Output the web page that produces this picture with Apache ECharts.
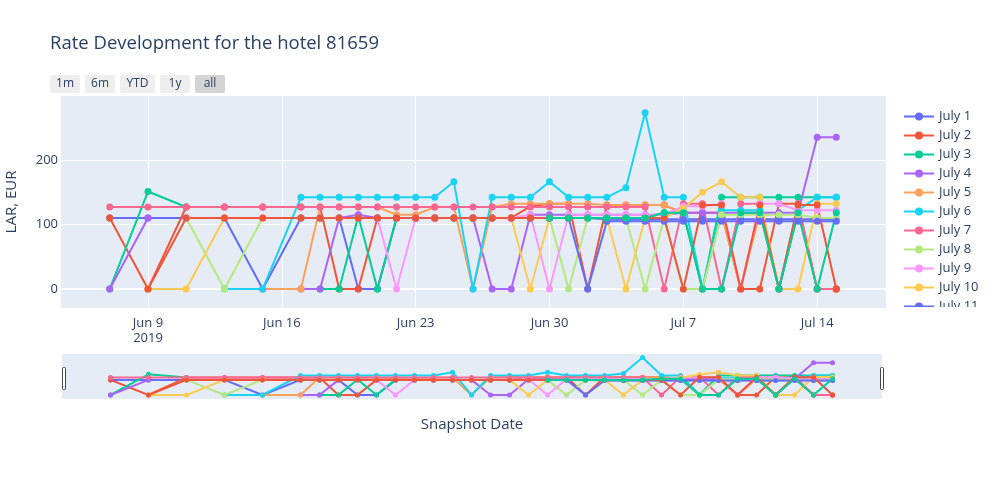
<!DOCTYPE html>
<html>
<head>
<meta charset="utf-8">
<title>Rate Development</title>
<script src="https://cdn.jsdelivr.net/npm/echarts@6/dist/echarts.min.js"></script>
<style>
  html, body { margin: 0; padding: 0; background: #fff; }
  #chart { width: 1000px; height: 500px; }
</style>
</head>
<body>
<div id="chart"></div>
<script>
// snapshot dates
const dates = [
  "2019-06-07", "2019-06-09", "2019-06-11", "2019-06-13", "2019-06-15",
  "2019-06-17", "2019-06-18", "2019-06-19", "2019-06-20", "2019-06-21", "2019-06-22", "2019-06-23",
  "2019-06-24", "2019-06-25", "2019-06-26", "2019-06-27", "2019-06-28", "2019-06-29", "2019-06-30",
  "2019-07-01", "2019-07-02", "2019-07-03", "2019-07-04", "2019-07-05", "2019-07-06", "2019-07-07",
  "2019-07-08", "2019-07-09", "2019-07-10", "2019-07-11", "2019-07-12", "2019-07-13", "2019-07-14", "2019-07-15",
];

// rates per stay date (LAR, EUR), null = no snapshot
const july1 = [
  110, 110, 110, 110, 0,
  110, 110, 110, 0, 0, 110, 110,
  110, 110, 110, 110, 110, 110, 110,
  110, 110, 108, 108, 108, 108, 108,
  108, 108, 108, 108, 108, 108, 108, 108,
];
const july2 = [
  110, 0, 127, 127, 127,
  127, 127, 0, 0, 110, 110, 110,
  110, 110, 110, 110, 110, 128, 132,
  132, 0, 130, 130, 130, 130, 118,
  118, 118, 0, 0, 132, 132, 0, 0,
];
const july3 = [
  0, 151, 127, null, null,
  null, 0, 0, 113, 0, 110, 110,
  110, 110, 110, 110, 110, 110, 110,
  110, 110, 110, 110, 110, 118, 118,
  0, 142, 142, 142, 142, 142, 142, 142,
];
const july4 = [
  0, 110, null, null, null,
  0, 0, 110, 115, 110, 110, 110,
  110, 110, 110, 0, 0, 115, 115,
  115, 115, 115, 115, 115, 115, 118,
  118, 118, 118, 118, 118, 118, 235, 235,
];
const july5 = [
  null, null, null, null, 0,
  0, 127, 127, 127, 127, 115, 115,
  127, 127, 0, 127, 132, 132, 132,
  132, 132, 130, 130, 130, 130, 118,
  0, 118, 0, 118, 0, 118, 0, 0,
];
const july6 = [
  null, null, null, 0, 0,
  142, 142, 142, 142, 142, 142, 142,
  142, 166, 0, 142, 142, 142, 166,
  142, 142, 142, 157, 273, 142, 142,
  0, 122, 122, 122, 0, 122, 142, 142,
];
const july7 = [
  127, 127, 127, 127, 127,
  127, 127, 127, 127, 127, 127, 127,
  127, 127, 127, 127, 127, 127, 127,
  127, 127, 127, 127, 127, 0, 132,
  132, 0, 132, 132, 0, 132, 0, 0,
];
const july8 = [
  null, null, 110, 0, 110,
  110, 110, 110, 110, 110, 110, 110,
  110, 110, 110, 110, 110, 110, 110,
  0, 110, 110, 110, 0, 110, 0,
  0, 115, 115, 115, 115, 115, 110, 110,
];
const july9 = [
  null, null, null, null, null,
  null, null, null, null, 110, 0, 110,
  110, 110, 110, 110, 110, 115, 0,
  115, 115, 115, 115, 115, 115, 128,
  128, 132, 0, 132, 132, 122, 122, 122,
];
const july10 = [
  null, 0, 0, 110, 110,
  110, 110, 110, 110, 110, 110, 110,
  110, 110, 110, 110, 110, 0, 110,
  110, 110, 110, 0, 110, 110, 125,
  150, 166, 142, 142, 0, 0, 132, 132,
];
const july11 = [
  null, null, null, null, null,
  110, 110, 110, 110, 110, 110, 110,
  110, 110, 110, 110, 110, 110, 110,
  110, 0, 105, 105, 105, 105, 105,
  105, 105, 105, 105, 105, 105, 105, 105,
];
const july12 = [
  null, 0, 110, 110, 110,
  110, 110, 110, 110, 110, 110, 110,
  110, 110, 110, 110, 110, 110, 110,
  110, 110, 110, 110, 110, 110, 0,
  130, 130, 0, 130, 0, 130, 130, 0,
];
const july13 = [
  null, null, null, null, null,
  null, null, null, null, null, null, null,
  null, null, null, null, null, null, 110,
  110, 110, 110, 110, 110, 118, 118,
  0, 0, 118, 118, 0, 118, 0, 118,
];

const seriesNames = [
  "July 1", "July 2", "July 3", "July 4", "July 5", "July 6", "July 7",
  "July 8", "July 9", "July 10", "July 11", "July 12", "July 13",
];
const seriesValues = [
  july1, july2, july3, july4, july5, july6, july7,
  july8, july9, july10, july11, july12, july13,
];
const colors = [
  "#636efa", "#ef553b", "#00cc96", "#ab63fa", "#ffa15a", "#19d3f3", "#ff6692",
  "#b6e880", "#ff97ff", "#fecb52", "#636efa", "#ef553b", "#00cc96",
];

// x tick positions (days since Jun 9) and labels
const xTickDays = [0, 7, 14, 21, 28, 35];
const xTickLabels = ["Jun 9\n2019", "Jun 16", "Jun 23", "Jun 30", "Jul 7", "Jul 14"];
const yTicks = [0, 100, 200];
const rangeButtons = ["1m", "6m", "YTD", "1y", "all"];

const origin = Date.parse("2019-06-09");
const dayOf = (d) => (Date.parse(d) - origin) / 86400000;

const textColor = "#2a3f5f";
const font = "'Open Sans', Verdana, Arial, sans-serif";

function toPoints(values) {
  return dates.map((d, i) => [dayOf(d), values[i] === null ? "-" : values[i]]);
}

const mainSeries = seriesNames.map((name, i) => ({
  name: name,
  type: "line",
  xAxisIndex: 0,
  yAxisIndex: 0,
  z: 2,
  data: toPoints(seriesValues[i]),
  symbol: "circle",
  symbolSize: 7,
  showSymbol: true,
  lineStyle: { width: 2, color: colors[i] },
  itemStyle: { color: colors[i] },
  emphasis: { disabled: true },
  animation: false,
  // zero line sits under every trace
  markLine: i === 0 ? {
    z: 1,
    silent: true,
    symbol: "none",
    label: { show: false },
    lineStyle: { color: "#ffffff", width: 2, type: "solid" },
    data: [{ yAxis: 0 }],
  } : undefined,
}));

const miniSeries = seriesNames.map((name, i) => ({
  name: name,
  type: "line",
  xAxisIndex: 1,
  yAxisIndex: 1,
  data: toPoints(seriesValues[i]),
  symbol: "circle",
  symbolSize: 5,
  showSymbol: true,
  silent: true,
  lineStyle: { width: 2, color: colors[i] },
  itemStyle: { color: colors[i] },
  emphasis: { disabled: true },
  animation: false,
}));

// range selector buttons (decoration only)
const buttonX = [50, 85, 120, 160, 195];
const buttonW = [30, 30, 35, 30, 30];
const buttonGraphics = rangeButtons.map((label, i) => ({
  type: "group",
  left: buttonX[i],
  top: 75,
  children: [
    {
      type: "rect",
      shape: { x: 0, y: 0, width: buttonW[i], height: 18, r: 2 },
      style: { fill: label === "all" ? "#d4d4d4" : "#eeeeee" },
    },
    {
      type: "text",
      x: buttonW[i] / 2,
      y: 9,
      style: {
        text: label,
        fill: textColor,
        font: "12px " + font,
        textAlign: "center",
        textVerticalAlign: "middle",
      },
    },
  ],
}));

const handleGraphics = [62, 880].map((x) => ({
  type: "rect",
  shape: { x: x + 0.5, y: 367.5, width: 3, height: 22, r: 1 },
  style: { fill: "#ffffff", stroke: "#444444", lineWidth: 1 },
  z: 100,
}));

const option = {
  backgroundColor: "#ffffff",
  animation: false,
  color: colors,
  textStyle: { fontFamily: font },
  title: {
    text: "Rate Development for the hotel 81659",
    left: 50,
    top: 34,
    padding: 0,
    textStyle: { fontSize: 18.5, fontWeight: "normal", color: textColor, fontFamily: font },
  },
  legend: {
    type: "scroll",
    orient: "vertical",
    left: 903,
    top: 110,
    height: 218,
    padding: 0,
    data: seriesNames,
    itemWidth: 30,
    itemHeight: 10,
    itemGap: 6,
    textStyle: { color: textColor, fontSize: 13, fontFamily: font },
    pageIconColor: "transparent",
    pageIconInactiveColor: "transparent",
    pageFormatter: "",
    pageTextStyle: { color: "transparent" },
  },
  graphic: buttonGraphics.concat(handleGraphics),
  grid: [
    {
      left: 61, top: 96, width: 825, height: 212,
      outerBoundsMode: "none",
      containLabel: false,
      show: true, backgroundColor: "#e5ecf6", borderWidth: 0,
    },
    {
      left: 62, top: 354, width: 820, height: 45,
      outerBoundsMode: "none",
      containLabel: false,
      show: true, backgroundColor: "#e5ecf6", borderWidth: 0,
    },
  ],
  xAxis: [
    {
      type: "value",
      gridIndex: 0,
      min: -4.55,
      max: 38.6,
      axisLine: { show: false },
      axisTick: { show: false, customValues: xTickDays },
      splitLine: { show: true, lineStyle: { color: "#ffffff", width: 1 } },
      axisLabel: {
        customValues: xTickDays,
        color: textColor,
        fontSize: 13,
        fontFamily: font,
        margin: 8,
        lineHeight: 15,
        formatter: (v) => xTickLabels[xTickDays.indexOf(v)] || "",
      },
    },
    {
      type: "value",
      gridIndex: 1,
      min: -4.55,
      max: 38.6,
      axisLine: { show: false },
      axisTick: { show: false },
      splitLine: { show: false },
      axisLabel: { show: false },
      name: "Snapshot Date",
      nameLocation: "middle",
      nameGap: 18,
      nameTextStyle: { color: textColor, fontSize: 15, fontFamily: font, verticalAlign: "top" },
    },
  ],
  yAxis: [
    {
      type: "value",
      gridIndex: 0,
      min: -29.5,
      max: 299,
      name: "LAR, EUR",
      nameLocation: "middle",
      nameGap: 42,
      nameTextStyle: { color: textColor, fontSize: 15, fontFamily: font },
      axisLine: { show: false },
      axisTick: { show: false, customValues: yTicks },
      splitLine: { show: true, lineStyle: { color: "#ffffff", width: 1 } },
      axisLabel: {
        customValues: yTicks,
        color: textColor,
        fontSize: 13,
        fontFamily: font,
        margin: 3,
      },
    },
    {
      type: "value",
      gridIndex: 1,
      min: -29.5,
      max: 299,
      axisLine: { show: false },
      axisTick: { show: false },
      splitLine: { show: false },
      axisLabel: { show: false },
    },
  ],
  tooltip: { show: false },
  series: mainSeries.concat(miniSeries),
};

const chart = echarts.init(document.getElementById("chart"), null, { renderer: "canvas" });
chart.setOption(option);
</script>
</body>
</html>
